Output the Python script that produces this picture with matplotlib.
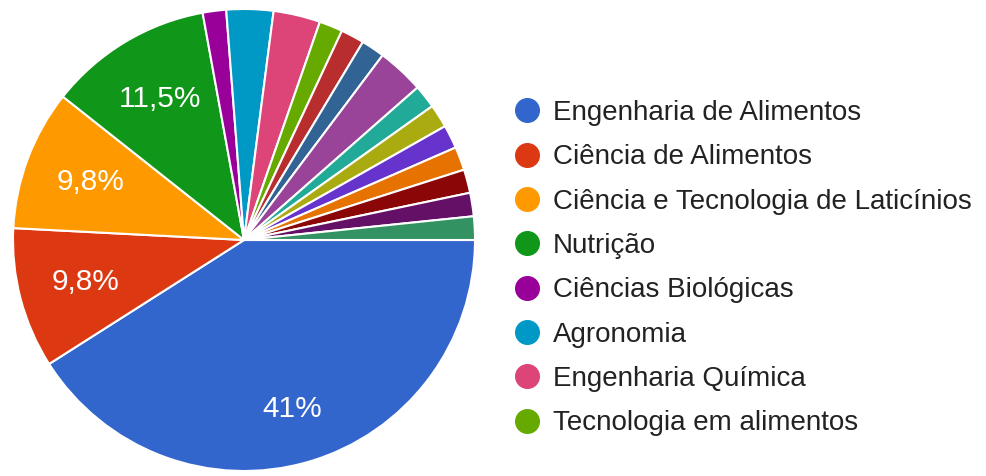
import matplotlib.pyplot as plt
from matplotlib.lines import Line2D

plt.rcParams['font.family'] = ['Liberation Sans', 'DejaVu Sans']

# respostas por curso (n = 61)
legend_labels = ["Engenharia de Alimentos", "Ciência de Alimentos",
                 "Ciência e Tecnologia de Laticínios", "Nutrição",
                 "Ciências Biológicas", "Agronomia", "Engenharia Química",
                 "Tecnologia em alimentos"]
counts = [25, 6, 6, 7, 1, 2, 2, 1, 1, 1, 2, 1, 1, 1, 1, 1, 1, 1]
colors = ["#3366cc", "#dc3912", "#ff9900", "#109618", "#990099", "#0099c6",
          "#dd4477", "#66aa00", "#b82e2e", "#316395", "#994499", "#22aa99",
          "#aaaa11", "#6633cc", "#e67300", "#8b0707", "#651067", "#329262"]


def fmt_pct(p):
    if p < 5:
        return ""
    s = f"{p:.1f}".replace(".", ",")
    if s.endswith(",0"):
        s = s[:-2]
    return s + "%"


fig = plt.figure(figsize=(9.86, 4.76), dpi=100)
ax = fig.add_axes([13 / 986, 5 / 476, 462 / 986, 462 / 476])
wedges, texts, autotexts = ax.pie(
    counts, colors=colors, startangle=0, counterclock=False,
    autopct=fmt_pct, pctdistance=0.71,
    wedgeprops=dict(edgecolor="white", linewidth=1.5),
    textprops=dict(color="white", fontsize=21.5))
# o rótulo do maior setor fica um pouco mais abaixo no original
x0, y0 = autotexts[0].get_position()
autotexts[0].set_position((x0 + 0.01, y0 - 0.05))
ax.set_xlim(-1, 1)
ax.set_ylim(-1, 1)
ax.set_aspect("equal")

handles = [Line2D([], [], marker="o", linestyle="none", markersize=17,
                  markerfacecolor=c, markeredgecolor=c)
           for c in colors[:len(legend_labels)]]
fig.legend(handles, legend_labels, loc="upper left",
           bbox_to_anchor=(513 / 986, 1 - 100 / 476), frameon=False,
           fontsize=20, labelcolor="#222222", handletextpad=0.43,
           labelspacing=0.66, handlelength=1.0, borderpad=0,
           borderaxespad=0)

fig.savefig("out.png", dpi=100)
